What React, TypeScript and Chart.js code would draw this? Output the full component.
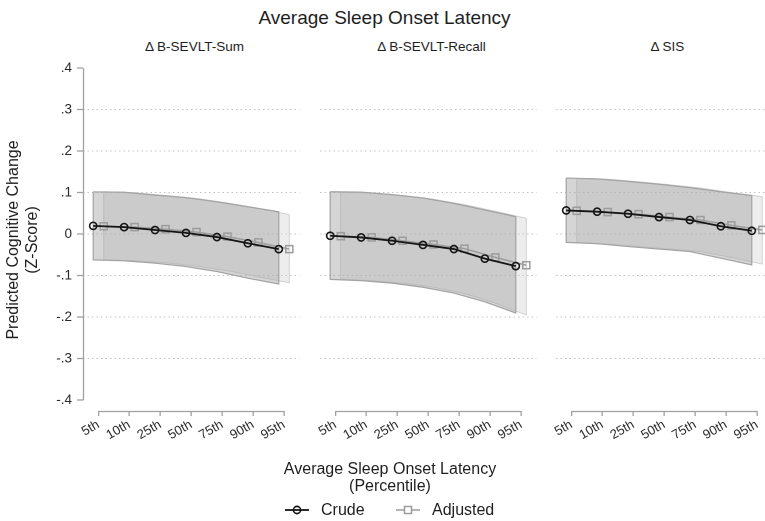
import React, { useEffect, useRef } from "react";
import { Chart, registerables } from "chart.js";

Chart.register(...registerables);

// ---------- data ----------
const percentiles = ["5th", "10th", "25th", "50th", "75th", "90th", "95th"];
const yTickValues = [-0.4, -0.3, -0.2, -0.1, 0, 0.1, 0.2, 0.3, 0.4];
const panelTitles = ["Δ B-SEVLT-Sum", "Δ B-SEVLT-Recall", "Δ SIS"];
const seriesNames = ["Crude", "Adjusted"];

// Δ B-SEVLT-Sum
const sumCrude = [0.02, 0.017, 0.01, 0.003, -0.007, -0.022, -0.036];
const sumAdj = [0.019, 0.017, 0.012, 0.005, -0.006, -0.02, -0.036];
const sumCrudeHi = [0.102, 0.101, 0.094, 0.088, 0.078, 0.066, 0.054];
const sumCrudeLo = [-0.062, -0.064, -0.07, -0.078, -0.09, -0.106, -0.12];
const sumAdjHi = [0.102, 0.1, 0.093, 0.086, 0.075, 0.062, 0.047];
const sumAdjLo = [-0.062, -0.064, -0.069, -0.077, -0.088, -0.103, -0.117];

// Δ B-SEVLT-Recall
const recCrude = [-0.004, -0.008, -0.016, -0.026, -0.036, -0.059, -0.077];
const recAdj = [-0.005, -0.008, -0.016, -0.025, -0.035, -0.056, -0.075];
const recCrudeHi = [0.102, 0.101, 0.095, 0.087, 0.074, 0.058, 0.042];
const recCrudeLo = [-0.109, -0.112, -0.118, -0.128, -0.142, -0.163, -0.19];
const recAdjHi = [0.101, 0.099, 0.093, 0.084, 0.071, 0.055, 0.038];
const recAdjLo = [-0.109, -0.112, -0.118, -0.128, -0.143, -0.166, -0.195];

// Δ SIS
const sisCrude = [0.057, 0.054, 0.049, 0.041, 0.034, 0.019, 0.008];
const sisAdj = [0.056, 0.053, 0.048, 0.041, 0.034, 0.021, 0.01];
const sisCrudeHi = [0.135, 0.133, 0.127, 0.12, 0.112, 0.102, 0.093];
const sisCrudeLo = [-0.02, -0.023, -0.03, -0.036, -0.042, -0.058, -0.074];
const sisAdjHi = [0.134, 0.132, 0.126, 0.119, 0.111, 0.1, 0.09];
const sisAdjLo = [-0.021, -0.024, -0.03, -0.036, -0.042, -0.056, -0.072];

// ---------- styling ----------
const FONT = '"Liberation Sans", Arial, Helvetica, sans-serif';
const OFFSET = 0.17;
const AXIS_COLOR = "#a0a0a0";
const TEXT_COLOR = "#1e1e1e";

const fmtY = (v: number) => {
  if (Math.abs(v) < 1e-9) return "0";
  return v.toFixed(1).replace("0.", ".");
};

const axisLinesPlugin = {
  id: "axisLines",
  afterDraw(chart: any, _args: any, opts: any) {
    const { ctx, chartArea, scales } = chart;
    const x = scales.x;
    const y = scales.y;
    ctx.save();
    ctx.strokeStyle = AXIS_COLOR;
    ctx.lineWidth = 1.3;
    ctx.beginPath();
    const by = Math.round(chartArea.bottom) + 0.5;
    ctx.moveTo(x.getPixelForValue(0), by);
    ctx.lineTo(x.getPixelForValue(percentiles.length - 1), by);
    if (opts && opts.showY) {
      const lx = Math.round(chartArea.left) + 0.5;
      ctx.moveTo(lx, y.getPixelForValue(yTickValues[yTickValues.length - 1]));
      ctx.lineTo(lx, y.getPixelForValue(yTickValues[0]));
    }
    ctx.stroke();
    ctx.restore();
  },
};

type PanelProps = {
  left: number;
  showY: boolean;
  crude: number[];
  adj: number[];
  crudeLo: number[];
  crudeHi: number[];
  adjLo: number[];
  adjHi: number[];
};

const CANVAS_W = 306;
const CANVAS_H = 396;

function Panel(props: PanelProps) {
  const ref = useRef<HTMLCanvasElement>(null);
  useEffect(() => {
    const { showY, crude, adj, crudeLo, crudeHi, adjLo, adjHi } = props;
    const pts = (vals: number[], off: number) => vals.map((v, i) => ({ x: i + off, y: v }));
    const outline = (lo: number[], hi: number[], off: number) => [
      ...pts(hi, off),
      ...pts(lo, off).reverse(),
      { x: off, y: hi[0] },
    ];
    const bandCommon = {
      pointRadius: 0,
      borderWidth: 0,
      borderColor: "rgba(0,0,0,0)",
      tension: 0,
    };
    const chart = new Chart(ref.current as HTMLCanvasElement, {
      type: "line",
      data: {
        datasets: [
          {
            label: seriesNames[0],
            data: pts(crude, -OFFSET),
            borderColor: "#151515",
            borderWidth: 1.8,
            pointStyle: "circle",
            pointRadius: 3.6,
            pointBorderWidth: 1.6,
            pointBorderColor: "#151515",
            pointBackgroundColor: "rgba(255,255,255,0)",
            fill: false,
            order: 0,
          },
          {
            label: seriesNames[1],
            data: pts(adj, OFFSET),
            borderColor: "#9c9c9c",
            borderWidth: 1.5,
            pointStyle: "rect",
            pointRadius: 5,
            pointBorderWidth: 1.5,
            pointBorderColor: "#9c9c9c",
            pointBackgroundColor: "rgba(255,255,255,0)",
            fill: false,
            order: 1,
          },
          {
            label: "crudeHi",
            data: pts(crudeHi, -OFFSET),
            ...bandCommon,
            backgroundColor: "rgba(160,160,160,0.44)",
            fill: "+1",
            order: 3,
          },
          {
            label: "crudeLo",
            data: pts(crudeLo, -OFFSET),
            ...bandCommon,
            fill: false,
            order: 3,
          },
          {
            label: "crudeOutline",
            data: outline(crudeLo, crudeHi, -OFFSET),
            pointRadius: 0,
            borderColor: "#a3a3a3",
            borderWidth: 1.2,
            fill: false,
            order: 2,
          },
          {
            label: "adjHi",
            data: pts(adjHi, OFFSET),
            ...bandCommon,
            backgroundColor: "rgba(205,205,205,0.36)",
            fill: "+1",
            order: 5,
          },
          {
            label: "adjLo",
            data: pts(adjLo, OFFSET),
            ...bandCommon,
            fill: false,
            order: 5,
          },
          {
            label: "adjOutline",
            data: outline(adjLo, adjHi, OFFSET),
            pointRadius: 0,
            borderColor: "#d2d2d2",
            borderWidth: 1,
            fill: false,
            order: 4,
          },
        ] as any,
      },
      options: {
        animation: false,
        responsive: false,
        maintainAspectRatio: false,
        devicePixelRatio: 2,
        layout: { padding: { top: 13, left: 0, right: 0, bottom: 0 } },
        plugins: {
          legend: { display: false },
          tooltip: { enabled: false },
          title: { display: false },
          axisLines: { showY },
        } as any,
        scales: {
          x: {
            type: "linear",
            min: -0.5,
            max: 6.5,
            afterBuildTicks: (s: any) => {
              s.ticks = percentiles.map((_, i) => ({ value: i }));
            },
            afterFit: (s: any) => {
              s.height = 40;
            },
            border: { display: false },
            grid: {
              drawOnChartArea: false,
              drawTicks: true,
              tickLength: 5,
              color: AXIS_COLOR,
              tickColor: AXIS_COLOR,
              tickWidth: 1.3,
              lineWidth: 1.3,
            },
            ticks: {
              autoSkip: false,
              minRotation: 30,
              maxRotation: 30,
              padding: 1,
              color: "#2a2a2a",
              font: { family: FONT, size: 13 },
              callback: (v: any) => percentiles[Math.round(Number(v))] ?? "",
            },
          },
          y: {
            type: "linear",
            min: -0.426,
            max: 0.4,
            afterBuildTicks: (s: any) => {
              s.ticks = yTickValues.map((v) => ({ value: v }));
            },
            afterFit: (s: any) => {
              s.width = 83;
            },
            border: { display: false, dash: [1.5, 3] },
            grid: {
              color: (ctx: any) => {
                const v = ctx.tick ? ctx.tick.value : 0;
                return Math.abs(v) > 0.35 ? "rgba(0,0,0,0)" : "#c2c2c2";
              },
              borderDash: [1.5, 3],
              drawTicks: showY,
              tickLength: 6,
              tickColor: AXIS_COLOR,
              tickBorderDash: [],
              tickWidth: 1.3,
              lineWidth: 1,
            },
            ticks: {
              display: showY,
              padding: 5,
              color: "#2a2a2a",
              font: { family: FONT, size: 13.5 },
              callback: (v: any) => fmtY(Number(v)),
            },
          },
        } as any,
      },
      plugins: [axisLinesPlugin as any],
    });
    return () => chart.destroy();
  }, []);
  return (
    <div
      style={{
        position: "absolute",
        left: props.left,
        top: 55,
        width: CANVAS_W,
        height: CANVAS_H,
      }}
    >
      <canvas
        ref={ref}
        width={CANVAS_W}
        height={CANVAS_H}
        style={{ width: CANVAS_W, height: CANVAS_H, display: "block" }}
      />
    </div>
  );
}

const textBase: React.CSSProperties = {
  position: "absolute",
  fontFamily: FONT,
  color: TEXT_COLOR,
  whiteSpace: "nowrap",
};

export default function App() {
  const panelLefts = [0, 237, 473];
  const panelCenters = [194.5, 431.5, 667.5];
  return (
    <div
      style={{
        position: "absolute",
        left: 0,
        top: 0,
        width: 765,
        height: 521,
        overflow: "hidden",
        background: "#ffffff",
      }}
    >
      <div
        style={{
          ...textBase,
          left: 0,
          width: 765,
          top: 7,
          textAlign: "center",
          fontSize: 19,
          lineHeight: "22px",
          paddingLeft: 2,
        }}
      >
        Average Sleep Onset Latency
      </div>

      {panelTitles.map((t, i) => (
        <div
          key={t}
          style={{
            ...textBase,
            left: panelCenters[i] - 100,
            width: 200,
            top: 39,
            textAlign: "center",
            fontSize: 13.5,
            lineHeight: "16px",
          }}
        >
          {t}
        </div>
      ))}

      <Panel left={panelLefts[2]} showY={false} crude={sisCrude} adj={sisAdj} crudeLo={sisCrudeLo} crudeHi={sisCrudeHi} adjLo={sisAdjLo} adjHi={sisAdjHi} />
      <Panel left={panelLefts[1]} showY={false} crude={recCrude} adj={recAdj} crudeLo={recCrudeLo} crudeHi={recCrudeHi} adjLo={recAdjLo} adjHi={recAdjHi} />
      <Panel left={panelLefts[0]} showY={true} crude={sumCrude} adj={sumAdj} crudeLo={sumCrudeLo} crudeHi={sumCrudeHi} adjLo={sumAdjLo} adjHi={sumAdjHi} />

      {/* y axis title */}
      <div
        style={{
          ...textBase,
          left: 22 - 120,
          top: 240 - 19,
          width: 240,
          height: 38,
          textAlign: "center",
          fontSize: 16,
          lineHeight: "19px",
          transform: "rotate(-90deg)",
          transformOrigin: "50% 50%",
        }}
      >
        Predicted Cognitive Change
        <br />
        (Z-Score)
      </div>

      {/* x axis title */}
      <div
        style={{
          ...textBase,
          left: 390 - 150,
          width: 300,
          top: 460,
          textAlign: "center",
          fontSize: 16,
          lineHeight: "17px",
        }}
      >
        Average Sleep Onset Latency
        <br />
        (Percentile)
      </div>

      {/* legend */}
      <svg style={{ position: "absolute", left: 284, top: 503 }} width={26} height={14}>
        <line x1={1} y1={7} x2={25} y2={7} stroke="#151515" strokeWidth={1.8} />
        <circle cx={13} cy={7} r={3.6} fill="none" stroke="#151515" strokeWidth={1.6} />
      </svg>
      <div style={{ ...textBase, left: 321, top: 501, fontSize: 16, lineHeight: "18px" }}>
        {seriesNames[0]}
      </div>
      <svg style={{ position: "absolute", left: 395, top: 503 }} width={26} height={14}>
        <line x1={1} y1={7} x2={25} y2={7} stroke="#9c9c9c" strokeWidth={1.5} />
        <rect x={9.5} y={3.5} width={7} height={7} fill="#ffffff" stroke="#9c9c9c" strokeWidth={1.5} />
      </svg>
      <div style={{ ...textBase, left: 432, top: 501, fontSize: 16, lineHeight: "18px" }}>
        {seriesNames[1]}
      </div>
    </div>
  );
}
